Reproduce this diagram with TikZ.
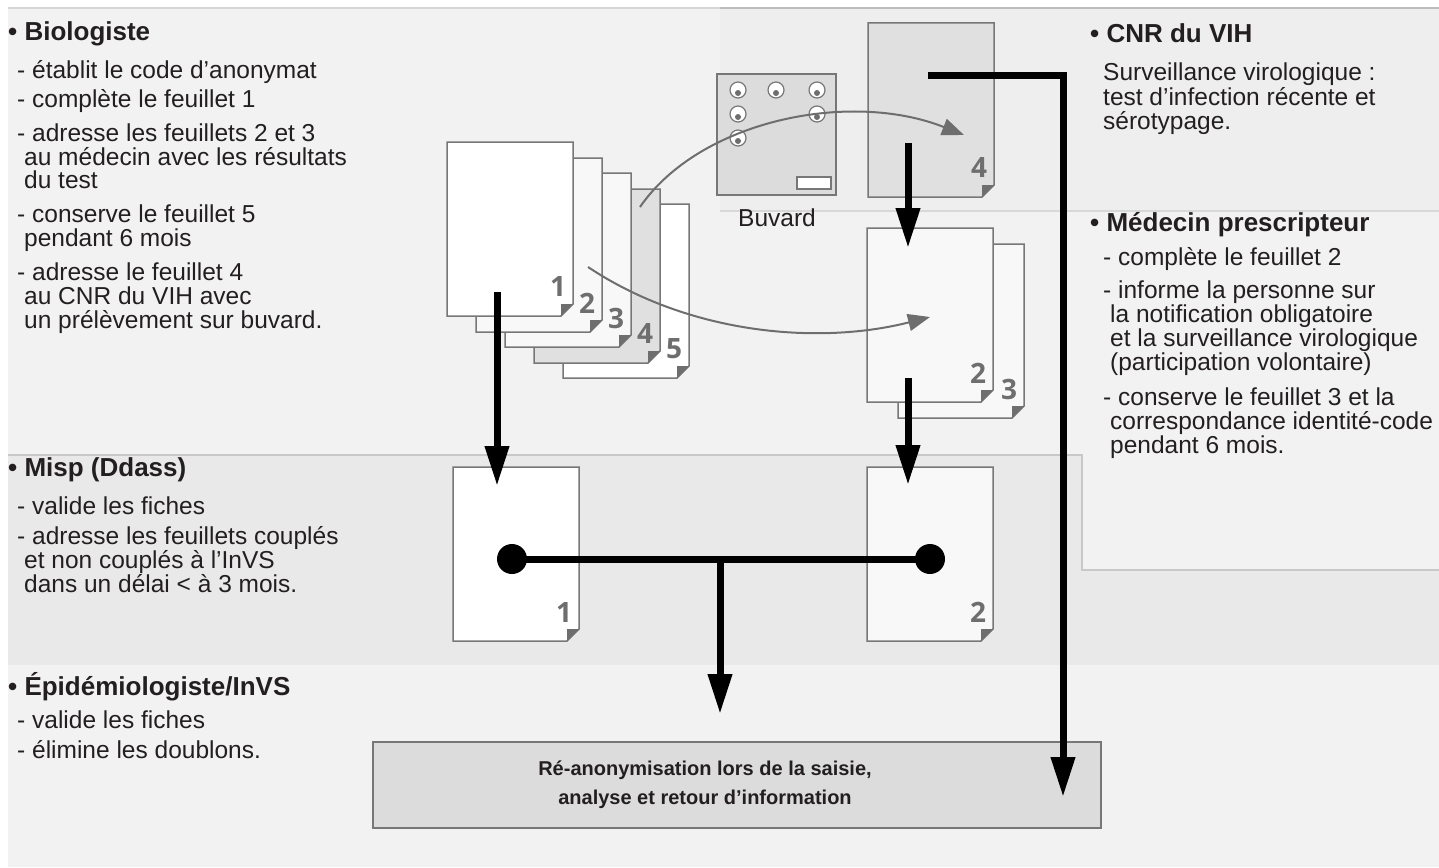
\documentclass[tikz,border=0pt]{standalone}
\usepackage{fontspec}
\setmainfont{Liberation Sans}
\newfontfamily\numfont{Open Sans}
\usetikzlibrary{arrows.meta}
\definecolor{bgA}{HTML}{F2F2F2}
\definecolor{bgCNR}{HTML}{EEEEEE}
\definecolor{bgMisp}{HTML}{E9E9E9}
\definecolor{lineL}{HTML}{D6D6D6}
\definecolor{lineR}{HTML}{BDBDBD}
\definecolor{bandc}{HTML}{C8C8C8}
\definecolor{edgec}{HTML}{777777}
\definecolor{foldc}{HTML}{6E6E6E}
\definecolor{txtc}{HTML}{231F20}
\definecolor{paperA}{HTML}{FFFFFF}
\definecolor{paperB}{HTML}{F8F8F8}
\definecolor{paperC}{HTML}{E0E0E0}
\definecolor{buvc}{HTML}{DCDCDC}
\newcommand\sheet[5]{%
  \coordinate (#1) at (#2,#3);
  \filldraw[sheetst,fill=#4] (#2,#3) -- ++(126,0) -- ++(0,162) -- ++(-12,12) -- ++(-114,0) -- cycle;
  \fill[foldc] (#2+126,#3+162) -- ++(-12,0) -- ++(0,12) -- cycle;
  \node[numst] (#1n) at (#2+111,#3+145) {#5};
}
\begin{document}
\begin{tikzpicture}[x=1pt,y=-1pt,
  txt/.style={anchor=base west,inner sep=0pt,font=\fontsize{24.5}{24}\selectfont,text=txtc},
  head/.style={anchor=base west,inner sep=0pt,font=\fontsize{26}{28}\selectfont\bfseries,text=txtc},
  sheetst/.style={draw=edgec,line width=1.5pt,line join=miter},
  numst/.style={inner sep=0pt,font=\numfont\fontsize{28}{28}\selectfont\bfseries,text=foldc},
  blk/.style={line width=7pt,-{Triangle[length=40pt,width=23pt]}},
  garrow/.style={draw=foldc,line width=2pt,-{Triangle[length=22pt,width=17pt]}},
  dotst/.style={fill=black,circle,inner sep=0pt,minimum size=30pt},
  hole/.style={circle,draw=edgec,fill=white,line width=1.2pt,inner sep=0pt,minimum size=16pt},
]
\useasboundingbox (0,0) rectangle (1439,867);
% backgrounds
\fill[white] (0,0) rectangle (1439,867);
\fill[bgA] (8,9) rectangle (1439,570);
\fill[bgCNR] (720,9) rectangle (1439,211);
\fill[bgMisp] (8,455) -- (1082,455) -- (1082,570) -- (1439,570) -- (1439,665) -- (8,665) -- cycle;
\fill[bgA] (8,665) rectangle (1439,867);
\draw[lineL,line width=2pt] (8,8) -- (720,8);
\draw[lineR,line width=2pt] (720,8) -- (1439,8);
\draw[bandc!70,line width=1.5pt] (720,211) -- (1439,211);
\draw[bandc,line width=1.5pt] (8,455) -- (1082,455) -- (1082,570) -- (1439,570);

% stack of five sheets
\sheet{s5}{563}{204}{paperA}{5}
\sheet{s4}{534}{189}{paperC}{4}
\sheet{s3}{505}{173}{paperB}{3}
\sheet{s2}{476}{158}{paperB}{2}
\sheet{s1}{447}{142}{paperA}{1}
% CNR sheet
\sheet{c4}{868}{23}{paperC}{4}
% medecin sheets
\sheet{m3}{898}{244}{paperB}{3}
\sheet{m2}{867}{228}{paperB}{2}
% misp sheets
\sheet{p1}{453}{467}{paperA}{1}
\sheet{p2}{867}{467}{paperB}{2}

% buvard
\filldraw[fill=buvc,draw=edgec,line width=1.5pt] (717,74) rectangle (836,195);
\foreach \hx/\hy [count=\i] in {738/90,776/90,817/90,738/114,817/114,738/138}{
  \node[hole] (h\i) at (\hx,\hy) {};
  \fill[foldc] (\hx,\hy+3) circle (3pt);
}
\filldraw[fill=white,draw=edgec,line width=1.2pt] (797,177) rectangle (831,189);
\node[txt,anchor=base] (buv) at (777,226) {Buvard};

% bottom box
\node[draw=edgec,fill=buvc,line width=1.5pt,minimum width=728pt,minimum height=86pt,inner sep=0pt] (box) at (737,785) {};
\node[inner sep=0pt,align=center,font=\fontsize{20}{29}\selectfont\bfseries,text=txtc] (boxt) at (705,785)
  {Ré-anonymisation lors de la saisie,\\analyse et retour d'information};

% gray curved arrows
\coordinate (g1a) at (640,207);
\coordinate (g1b) at (964,135);
\draw[garrow] (g1a) .. controls (700,120) and (850,90) .. (g1b);
\coordinate (g2a) at (588,267);
\coordinate (g2b) at (930,317);
\draw[garrow] (g2a) .. controls (690,335) and (820,345) .. (g2b);

% black arrows
\coordinate (a1s) at (497,292);
\coordinate (a1e) at (497,486);
\draw[blk] (a1s) -- (a1e);
\coordinate (a2s) at (908,143);
\coordinate (a2e) at (908,248);
\draw[blk] (a2s) -- (a2e);
\coordinate (a3s) at (908,378);
\coordinate (a3e) at (908,485);
\draw[blk] (a3s) -- (a3e);
\coordinate (a4s) at (928,75);
\coordinate (a4c) at (1063,75);
\coordinate (a4e) at (1063,797);
\draw[blk] (a4s) -- (a4c) -- (a4e);
\node[dotst] (d1) at (512,559) {};
\node[dotst] (d2) at (930,559) {};
\coordinate (dm) at (720,559);
\coordinate (de) at (720,714);
\draw[line width=7pt] (d1.center) -- (d2.center);
\draw[blk] (dm) -- (de);

% left texts
\node[head] (bh) at (8,41) {• Biologiste};
\node[txt] (b1) at (17,78) {- établit le code d’anonymat};
\node[txt] (b2) at (17,107) {- complète le feuillet 1};
\node[txt] (b3) at (17,141) {- adresse les feuillets 2 et 3};
\node[txt] (b3b) at (24,165) {au médecin avec les résultats};
\node[txt] (b3c) at (24,188) {du test};
\node[txt] (b4) at (17,222) {- conserve le feuillet 5};
\node[txt] (b4b) at (24,246) {pendant 6 mois};
\node[txt] (b5) at (17,280) {- adresse le feuillet 4};
\node[txt] (b5b) at (24,304) {au CNR du VIH avec};
\node[txt] (b5c) at (24,328) {un prélèvement sur buvard.};

\node[head] (mh) at (8,476) {• Misp (Ddass)};
\node[txt] (m1) at (17,514) {- valide les fiches};
\node[txt] (m2) at (17,544) {- adresse les feuillets couplés};
\node[txt] (m2b) at (24,568) {et non couplés à l’InVS};
\node[txt] (m2c) at (24,592) {dans un délai < à 3 mois.};

\node[head] (eh) at (8,695) {• Épidémiologiste/InVS};
\node[txt] (e1) at (17,728) {- valide les fiches};
\node[txt] (e2) at (17,758) {- élimine les doublons.};

% right texts
\node[head] (ch) at (1090,42) {• CNR du VIH};
\node[txt] (c1) at (1103,81) {Surveillance virologique :};
\node[txt] (c2) at (1103,105) {test d’infection récente et};
\node[txt] (c3) at (1103,129) {sérotypage.};

\node[head] (dh) at (1090,231) {• Médecin prescripteur};
\node[txt] (r1) at (1103,265) {- complète le feuillet 2};
\node[txt] (r2) at (1103,298) {- informe la personne sur};
\node[txt] (r2b) at (1110,322) {la notification obligatoire};
\node[txt] (r2c) at (1110,346) {et la surveillance virologique};
\node[txt] (r2d) at (1110,370) {(participation volontaire)};
\node[txt] (r3) at (1103,405) {- conserve le feuillet 3 et la};
\node[txt] (r3b) at (1110,429) {correspondance identité-code};
\node[txt] (r3c) at (1110,453) {pendant 6 mois.};
\end{tikzpicture}
\end{document}
